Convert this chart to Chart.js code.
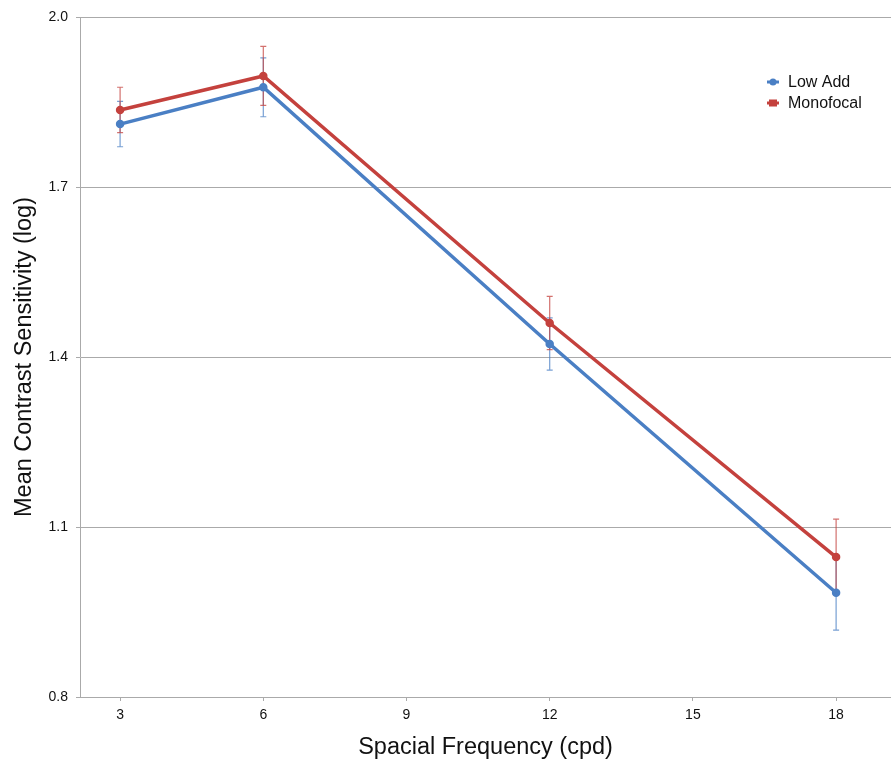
<!DOCTYPE html>
<html>
<head>
<meta charset="utf-8">
<script src="https://cdn.jsdelivr.net/npm/chart.js@4/dist/chart.umd.min.js"></script>
<style>
  html, body { margin: 0; padding: 0; background: #fff; overflow: hidden; }
</style>
</head>
<body>
<canvas id="lineChart" width="891" height="762"></canvas>
<script>
const freqs = [3, 6, 12, 18];
const xTicks = [3, 6, 9, 12, 15, 18];
const yTicks = [0.8, 1.1, 1.4, 1.7, 2.0];

const lowAdd = [1.811, 1.876, 1.423, 0.984];
const lowAddErr = [0.040, 0.052, 0.046, 0.066];
const monofocal = [1.836, 1.896, 1.460, 1.047];
const monofocalErr = [0.040, 0.052, 0.047, 0.067];

const blue = '#4a7fc4';
const red = '#c4413d';

const toPoints = (ys) => freqs.map((x, i) => ({ x: x, y: ys[i] }));

// error bars drawn under the lines
const errorBars = {
    id: 'errorBars',
    beforeDatasetsDraw(chart) {
        const ctx = chart.ctx;
        const xs = chart.scales.x, ys = chart.scales.y;
        chart.data.datasets.forEach((ds) => {
            ctx.save();
            ctx.strokeStyle = ds.errColor;
            ctx.lineWidth = 1.2;
            ds.data.forEach((p, i) => {
                const px = xs.getPixelForValue(p.x);
                const top = ys.getPixelForValue(p.y + ds.err[i]);
                const bot = ys.getPixelForValue(p.y - ds.err[i]);
                ctx.beginPath();
                ctx.moveTo(px, top); ctx.lineTo(px, bot);
                ctx.moveTo(px - 3, top); ctx.lineTo(px + 3, top);
                ctx.moveTo(px - 3, bot); ctx.lineTo(px + 3, bot);
                ctx.stroke();
            });
            ctx.restore();
        });
    }
};

// small legend in the top right corner of the plot
const cornerLegend = {
    id: 'cornerLegend',
    afterDraw(chart) {
        const ctx = chart.ctx;
        ctx.save();
        ctx.font = '16px "Liberation Sans", Arial, sans-serif';
        ctx.textBaseline = 'middle';
        chart.data.datasets.forEach((ds, i) => {
            const y = 82 + i * 21;
            ctx.strokeStyle = ds.borderColor;
            ctx.fillStyle = ds.borderColor;
            ctx.lineWidth = 3;
            ctx.beginPath();
            ctx.moveTo(767, y); ctx.lineTo(779, y);
            ctx.stroke();
            if (i === 0) {
                ctx.beginPath();
                ctx.arc(773, y, 3.5, 0, Math.PI * 2);
                ctx.fill();
            } else {
                ctx.fillRect(769, y - 3.5, 8, 7);
            }
            ctx.fillStyle = '#111';
            ctx.fillText(ds.label, 788, y + 1);
        });
        ctx.restore();
    }
};

const data_line = {
    datasets: [
        {
            label: 'Low Add',
            data: toPoints(lowAdd),
            err: lowAddErr,
            borderColor: blue,
            backgroundColor: blue,
            errColor: 'rgba(74,127,196,0.75)',
            borderWidth: 3.5,
            pointRadius: 2.5,
            pointHoverRadius: 2.5,
        },
        {
            label: 'Monofocal',
            data: toPoints(monofocal),
            err: monofocalErr,
            borderColor: red,
            backgroundColor: red,
            errColor: 'rgba(196,65,61,0.75)',
            borderWidth: 3.5,
            pointRadius: 2.5,
            pointHoverRadius: 2.5,
        },
    ]
};

const tickFont = { family: '"Liberation Sans", Arial, sans-serif', size: 14 };
const titleFont = { family: '"Liberation Sans", Arial, sans-serif', size: 23.5 };

const lineChart_config = {
    type: 'line',
    data: data_line,
    options: {
        responsive: false,
        animation: false,
        layout: { autoPadding: false, padding: { top: 17, right: 0, left: 0, bottom: 0 } },
        plugins: {
            legend: { display: false },
            tooltip: { enabled: false }
        },
        scales: {
            x: {
                type: 'linear',
                min: 2.16,
                max: 19.15,
                afterBuildTicks: (scale) => { scale.ticks = xTicks.map(v => ({ value: v })); },
                afterFit: (scale) => { scale.height = 65; },
                grid: { display: true, drawOnChartArea: false, tickLength: 4, color: '#aaa' },
                border: { color: '#aaa', width: 1 },
                ticks: { color: '#111', font: tickFont, padding: 6, maxRotation: 0 },
                title: {
                    display: true,
                    text: 'Spacial Frequency (cpd)',
                    color: '#111',
                    font: titleFont,
                    padding: { top: 4, bottom: 0 }
                }
            },
            y: {
                min: 0.8,
                max: 2.0,
                afterBuildTicks: (scale) => { scale.ticks = yTicks.map(v => ({ value: v })); },
                afterFit: (scale) => { scale.width = 80; },
                grid: { color: '#aaa', tickLength: 4, lineWidth: 1 },
                border: { color: '#aaa', width: 1 },
                ticks: {
                    color: '#111',
                    font: tickFont,
                    padding: 8,
                    callback: (v) => Number(v).toFixed(1)
                },
                title: {
                    display: true,
                    text: 'Mean Contrast Sensitivity (log)',
                    color: '#111',
                    font: titleFont,
                    padding: { top: 10, bottom: 0 }
                }
            }
        }
    },
    plugins: [errorBars, cornerLegend]
};

new Chart(document.getElementById('lineChart'), lineChart_config);
</script>
</body>
</html>
